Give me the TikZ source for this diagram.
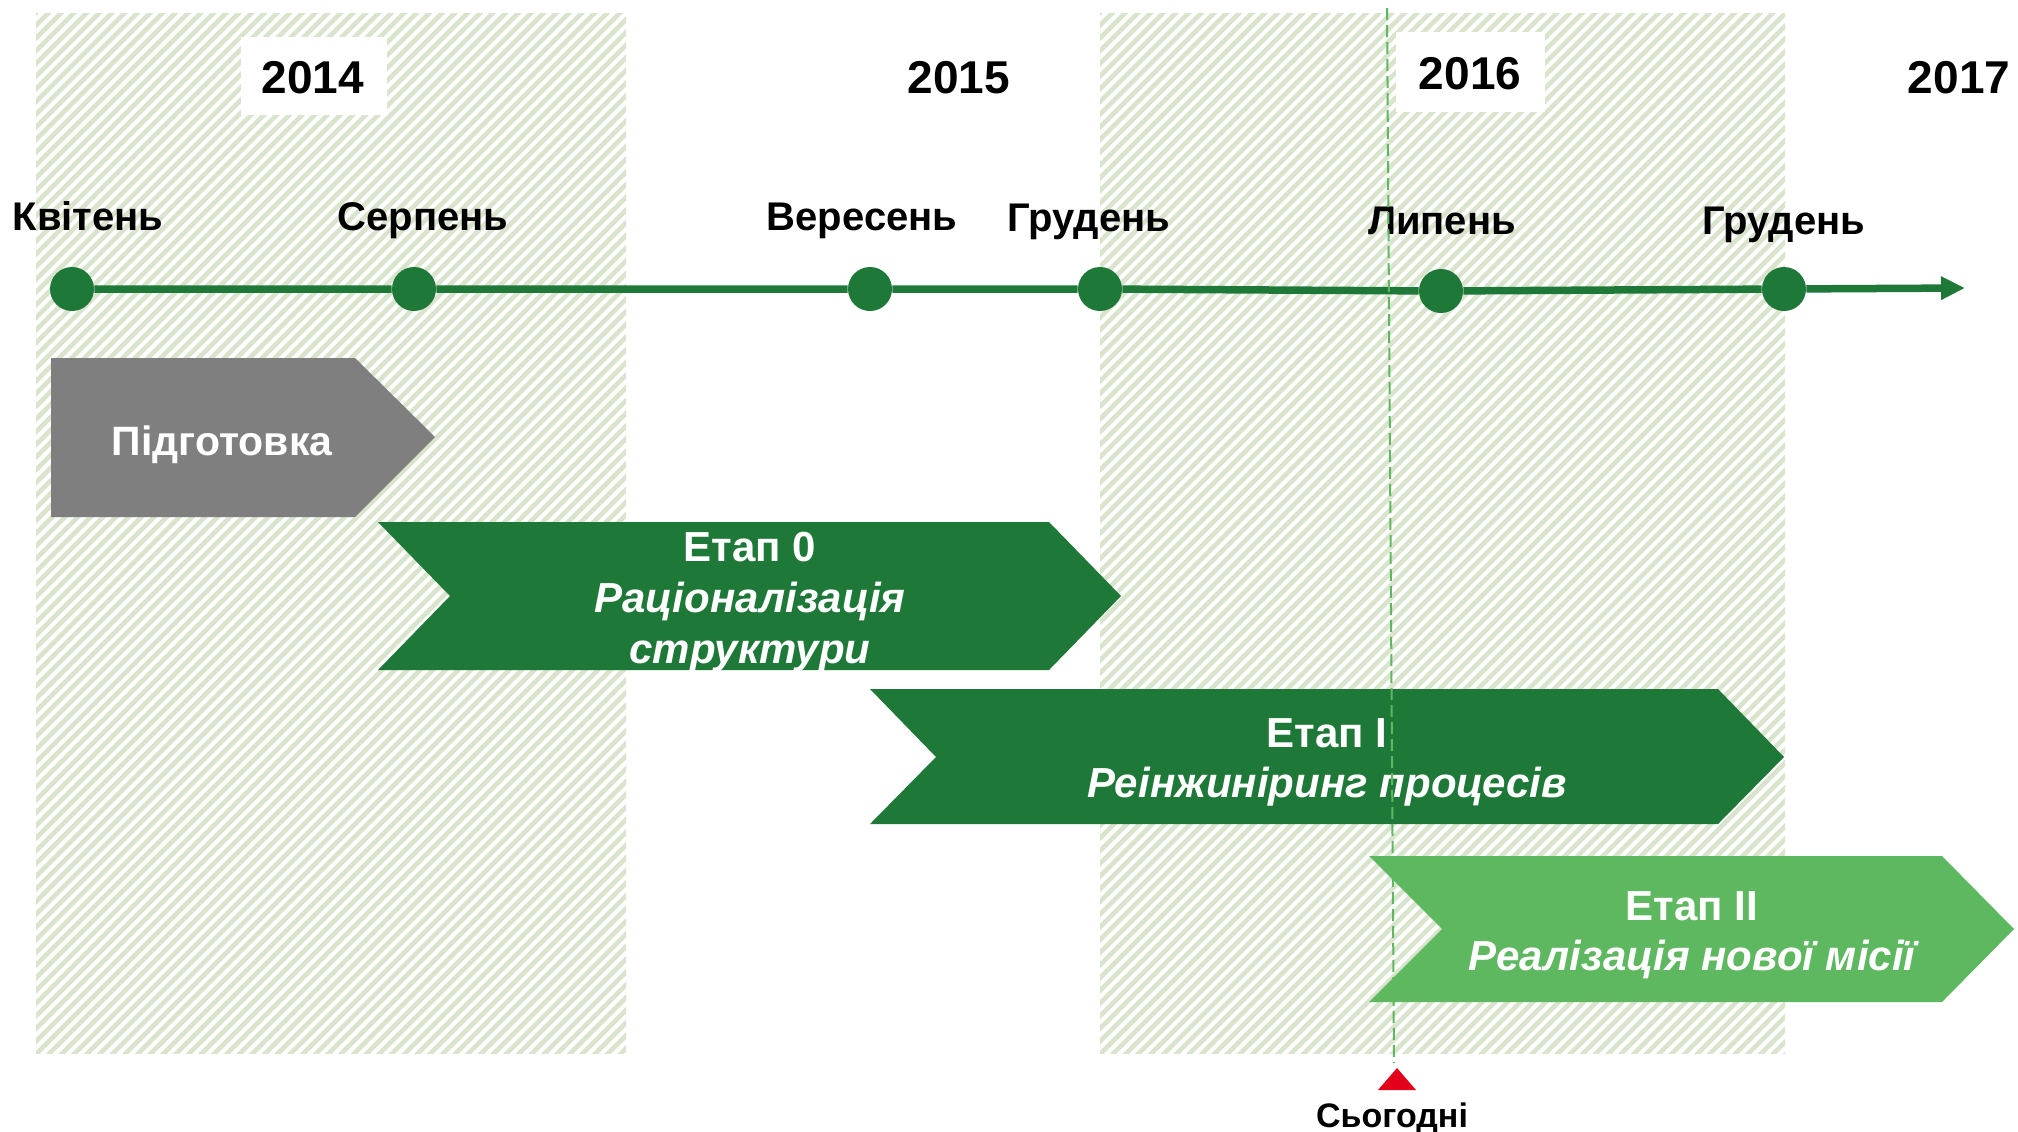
\documentclass[tikz,border=0pt]{standalone}
\usepackage{fontspec}
\setmainfont{Liberation Sans}
\usetikzlibrary{arrows.meta}

\definecolor{vert}{RGB}{30,120,56}
\definecolor{vertclair}{RGB}{93,184,96}
\definecolor{gris}{RGB}{127,127,127}
\definecolor{hachure}{RGB}{217,228,204}
\definecolor{rouge}{RGB}{226,0,26}

\begin{document}
\begin{tikzpicture}[x=0.5pt,y=-0.5pt,
  annee/.style={font=\fontsize{23}{27}\selectfont\bfseries},
  mois/.style={anchor=base,font=\fontsize{20}{24}\selectfont\bfseries},
  jalon/.style={circle,fill=vert,inner sep=0pt,minimum size=22pt},
  etape/.style={anchor=base,text=white,font=\fontsize{21}{25}\selectfont\bfseries},
  titre/.style={etape,font=\fontsize{21}{25}\selectfont\bfseries\itshape}]

% Fond
\fill[white] (0,0) rectangle (2018,1131);
\useasboundingbox (0,0) rectangle (2018,1131);

% Zones hachurees
\foreach \a/\b in {36/626,1100/1785}
{
\begin{scope}
\clip (\a,13) rectangle (\b,1053);
\foreach \k in {0,12.7,...,1800}
  \draw[hachure,line width=2.3pt] (\a+\k-1100,1100) -- (\a+\k,0);
\end{scope}
}

% Cadres des annees
\fill[white] (241,37) rectangle (387,115);
\fill[white] (1396,32) rectangle (1545,112);

% Annees
\node[annee] (a2014) at (313,78) {2014};
\node[annee] (a2015) at (959,78) {2015};
\node[annee] (a2016) at (1470,74) {2016};
\node[annee] (a2017) at (1959,78) {2017};

% Mois
\node[mois] (l1) at (88,230) {Квітень};
\node[mois] (l2) at (423,230) {Серпень};
\node[mois] (l3) at (862,230) {Вересень};
\node[mois] (l4) at (1089,231) {Грудень};
\node[mois] (l5) at (1442,234) {Липень};
\node[mois] (l6) at (1784,234) {Грудень};

% Axe du temps
\node[jalon] (m1) at (72,289) {};
\node[jalon] (m2) at (414,289) {};
\node[jalon] (m3) at (870,289) {};
\node[jalon] (m4) at (1100,289) {};
\node[jalon] (m5) at (1441,291) {};
\node[jalon] (m6) at (1784,289) {};
\coordinate (fin) at (1965,288);

\draw[vert,line width=3.75pt] (m1) -- (m2) -- (m3) -- (m4) -- (m5) -- (m6);
\draw[vert,line width=3.75pt,-{Triangle[length=12pt,width=11pt]}] (m6) -- (fin);

% Preparation
\fill[gris] (51,358) -- (355,358) -- (435,437) -- (355,517) -- (51,517) -- cycle;
\node[etape,font=\fontsize{20.5}{25}\selectfont\bfseries] (prep) at (222,455) {Підготовка};

% Etape 0
\fill[vert] (378,522) -- (1049,522) -- (1121,596) -- (1049,670) -- (378,670) -- (450,596) -- cycle;
\node[etape] (e0) at (750,561) {Етап 0};
\node[titre] (t0a) at (750,612) {Раціоналізація};
\node[titre] (t0b) at (750,663) {структури};

% Etape I
\fill[vert] (870,689) -- (1718,689) -- (1784,757) -- (1718,824) -- (870,824) -- (936,757) -- cycle;
\node[etape] (e1) at (1327,747) {Етап I};
\node[titre] (t1) at (1327,797) {Реінжиніринг процесів};

% Etape II
\fill[vertclair] (1369,856) -- (1942,856) -- (2014,929) -- (1942,1002) -- (1369,1002) -- (1442,929) -- cycle;
\node[etape] (e2) at (1692,920) {Етап II};
\node[titre] (t2) at (1692,970) {Реалізація нової місії};

% Aujourd'hui
\draw[vertclair,line width=1pt,dash pattern=on 6pt off 2.5pt] (1387,8) -- (1394,1063);
\fill[rouge] (1397,1068) -- (1416,1090) -- (1378,1090) -- cycle;
\node[anchor=base,font=\fontsize{17}{20}\selectfont\bfseries] (auj) at (1392,1127) {Сьогодні};

\end{tikzpicture}
\end{document}
